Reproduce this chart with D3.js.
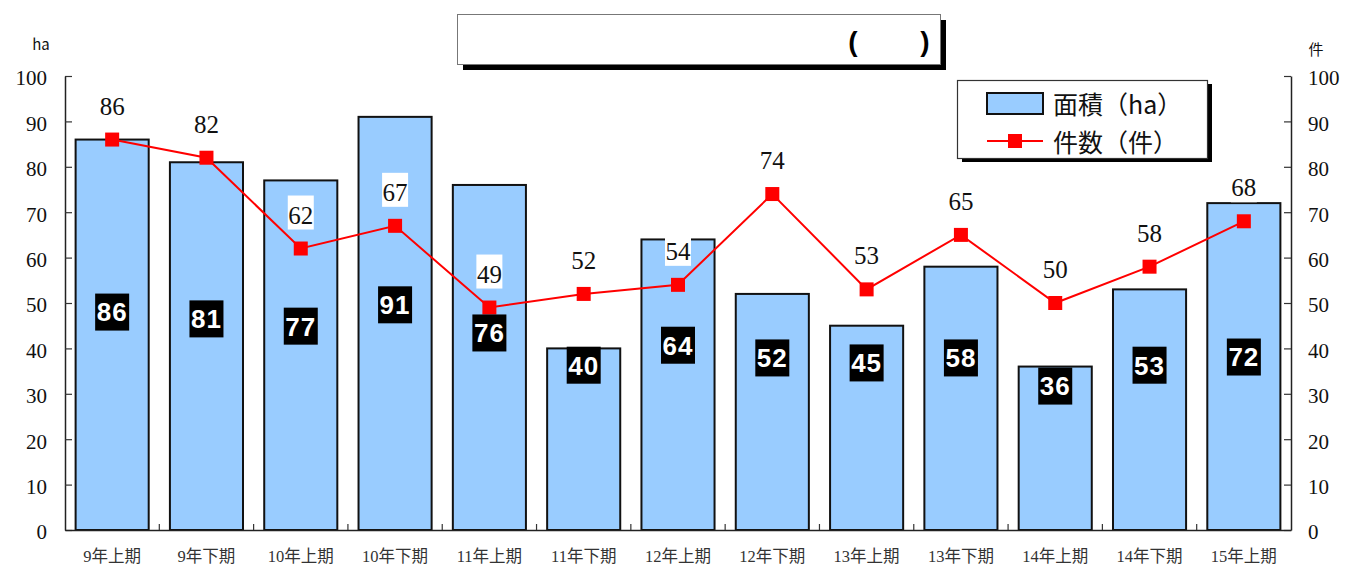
<!DOCTYPE html>
<html>
<head>
<meta charset="utf-8">
<script src="https://cdn.jsdelivr.net/npm/d3@7"></script>
<style>
  body { margin: 0; background: #fff; }
  svg { display: block; }
</style>
</head>
<body>
<svg id="chart" width="1345" height="568"></svg>
<script>
// Half-year periods
const periods = ["9年上期", "9年下期", "10年上期", "10年下期", "11年上期", "11年下期",
                 "12年上期", "12年下期", "13年上期", "13年下期", "14年上期", "14年下期", "15年上期"];
// Area (ha) – bars
const areaHa = [86, 81, 77, 91, 76, 40, 64, 52, 45, 58, 36, 53, 72];
// Number of cases (件) – line
const caseCount = [86, 82, 62, 67, 49, 52, 54, 74, 53, 65, 50, 58, 68];
// Height (in ha units) at which each bar's value badge sits
const areaLabelLevel = [48.0, 46.5, 44.9, 49.6, 43.4, 36.3, 40.7, 37.9, 36.8, 37.9, 31.7, 36.3, 38.1];
// Axis ticks (both sides)
const yTicks = d3.range(0, 101, 10);

const plot = { left: 65, right: 1291, top: 76, bottom: 530 };
const serif = "'Liberation Serif', 'DejaVu Serif', serif";
const cjk = "'Noto Sans CJK JP', 'Noto Sans', sans-serif";

const svg = d3.select("#chart");

const x = d3.scaleBand()
  .domain(periods)
  .range([plot.left, plot.right])
  .paddingInner(0.225)
  .paddingOuter(0.1125);
const yArea = d3.scaleLinear().domain([0, 100]).range([plot.bottom, plot.top]);
const yCount = d3.scaleLinear().domain([0, 100]).range([plot.bottom, plot.top]);
const cx = p => x(p) + x.bandwidth() / 2;

// ---- title box with drop shadow ----
const title = svg.append("g");
title.append("rect").attr("x", 463).attr("y", 20).attr("width", 483).attr("height", 50).attr("fill", "#000");
title.append("rect").attr("x", 457.5).attr("y", 14.5).attr("width", 483).attr("height", 50)
  .attr("fill", "#fff").attr("stroke", "#777").attr("stroke-width", 1);
title.append("text").attr("x", 853).attr("y", 51).attr("text-anchor", "middle")
  .attr("font-family", "'Liberation Sans', sans-serif").attr("font-weight", "bold")
  .attr("font-size", 28).attr("fill", "#000").text("(");
title.append("text").attr("x", 925).attr("y", 51).attr("text-anchor", "middle")
  .attr("font-family", "'Liberation Sans', sans-serif").attr("font-weight", "bold")
  .attr("font-size", 28).attr("fill", "#000").text(")");

// ---- unit labels ----
svg.append("text").attr("x", 41).attr("y", 50).attr("text-anchor", "middle")
  .attr("font-family", cjk).attr("font-size", 15).attr("fill", "#111").text("ha");
svg.append("text").attr("x", 1316).attr("y", 55).attr("text-anchor", "middle")
  .attr("font-family", cjk).attr("font-size", 15).attr("fill", "#111").text("件");

// ---- bars ----
svg.append("g").selectAll("rect")
  .data(periods)
  .join("rect")
  .attr("x", p => x(p))
  .attr("y", (p, i) => yArea(areaHa[i]))
  .attr("width", x.bandwidth())
  .attr("height", (p, i) => yArea(0) - yArea(areaHa[i]))
  .attr("fill", "#99CCFF")
  .attr("stroke", "#111")
  .attr("stroke-width", 2);

// ---- axes ----
const styleTicks = g => {
  g.selectAll("line").attr("stroke", "#333").attr("stroke-width", 1.2);
  g.select(".domain").attr("stroke", "#222").attr("stroke-width", 1.5);
  g.selectAll("text").attr("font-family", serif).attr("font-size", 21).attr("fill", "#111").attr("dy", "0.42em");
};

svg.append("g")
  .attr("transform", `translate(${plot.left},0)`)
  .call(d3.axisLeft(yArea).tickValues(yTicks).tickSizeInner(-7).tickSizeOuter(0).tickPadding(18))
  .call(styleTicks);

svg.append("g")
  .attr("transform", `translate(${plot.right},0)`)
  .call(d3.axisRight(yCount).tickValues(yTicks).tickSizeInner(-7).tickSizeOuter(0).tickPadding(17))
  .call(styleTicks);

// category axis: labels under bars, ticks on the boundaries
const xAxis = svg.append("g")
  .attr("transform", `translate(0,${plot.bottom})`)
  .call(d3.axisBottom(x).tickSize(0).tickPadding(20).tickSizeOuter(0));
xAxis.select(".domain").attr("stroke", "#222").attr("stroke-width", 1.5);
xAxis.selectAll("text")
  .attr("font-family", serif + ", " + cjk)
  .attr("font-size", 16.5)
  .attr("fill", "#333");
xAxis.selectAll(".boundary")
  .data(periods.slice(1))
  .join("line")
  .attr("class", "boundary")
  .attr("x1", p => x(p) - x.step() * x.paddingInner() / 2)
  .attr("x2", p => x(p) - x.step() * x.paddingInner() / 2)
  .attr("y1", 0).attr("y2", -6)
  .attr("stroke", "#333").attr("stroke-width", 1.2);

// ---- count line ----
const line = d3.line().x((d, i) => cx(periods[i])).y(d => yCount(d));
svg.append("path")
  .datum(caseCount)
  .attr("d", line)
  .attr("fill", "none")
  .attr("stroke", "#FF0000")
  .attr("stroke-width", 2);

svg.append("g").selectAll("rect")
  .data(caseCount)
  .join("rect")
  .attr("x", (d, i) => cx(periods[i]) - 7)
  .attr("y", d => yCount(d) - 7)
  .attr("width", 14).attr("height", 14)
  .attr("fill", "#FF0000");

// ---- bar value badges ----
const badges = svg.append("g").selectAll("g")
  .data(areaHa)
  .join("g")
  .attr("transform", (d, i) => `translate(${cx(periods[i])},${yArea(areaLabelLevel[i])})`);
badges.append("rect")
  .attr("x", -17).attr("y", -18.5).attr("width", 34).attr("height", 37)
  .attr("fill", "#000");
badges.append("text")
  .attr("text-anchor", "middle")
  .attr("dy", "0.36em")
  .attr("font-family", "'Liberation Sans', 'DejaVu Sans', sans-serif")
  .attr("font-weight", "bold")
  .attr("font-size", 26)
  .attr("letter-spacing", 1)
  .attr("fill", "#fff")
  .text(d => d);

// ---- count value labels ----
const countLabels = svg.append("g").selectAll("g")
  .data(caseCount)
  .join("g")
  .attr("transform", (d, i) => `translate(${cx(periods[i])},${yCount(d)})`);
countLabels.append("rect")
  .attr("x", -13).attr("y", -53).attr("width", 26).attr("height", 34)
  .attr("fill", "#fff");
countLabels.append("text")
  .attr("text-anchor", "middle")
  .attr("y", -25)
  .attr("font-family", serif)
  .attr("font-size", 25)
  .attr("fill", "#111")
  .text(d => d);

// ---- legend ----
const legend = svg.append("g");
legend.append("rect").attr("x", 962).attr("y", 84).attr("width", 250).attr("height", 78).attr("fill", "#000");
legend.append("rect").attr("x", 957.5).attr("y", 80.5).attr("width", 250).attr("height", 78)
  .attr("fill", "#fff").attr("stroke", "#333").attr("stroke-width", 1.2);
legend.append("rect").attr("x", 987).attr("y", 93).attr("width", 56).attr("height", 21)
  .attr("fill", "#99CCFF").attr("stroke", "#111").attr("stroke-width", 2);
legend.append("text").attr("x", 1053).attr("y", 114)
  .attr("font-family", cjk).attr("font-size", 25).attr("fill", "#111").text("面積（ha）");
legend.append("line").attr("x1", 987).attr("x2", 1043).attr("y1", 141).attr("y2", 141)
  .attr("stroke", "#FF0000").attr("stroke-width", 2);
legend.append("rect").attr("x", 1008).attr("y", 134).attr("width", 14).attr("height", 14).attr("fill", "#FF0000");
legend.append("text").attr("x", 1053).attr("y", 152)
  .attr("font-family", cjk).attr("font-size", 25).attr("fill", "#111").text("件数（件）");
</script>
</body>
</html>
